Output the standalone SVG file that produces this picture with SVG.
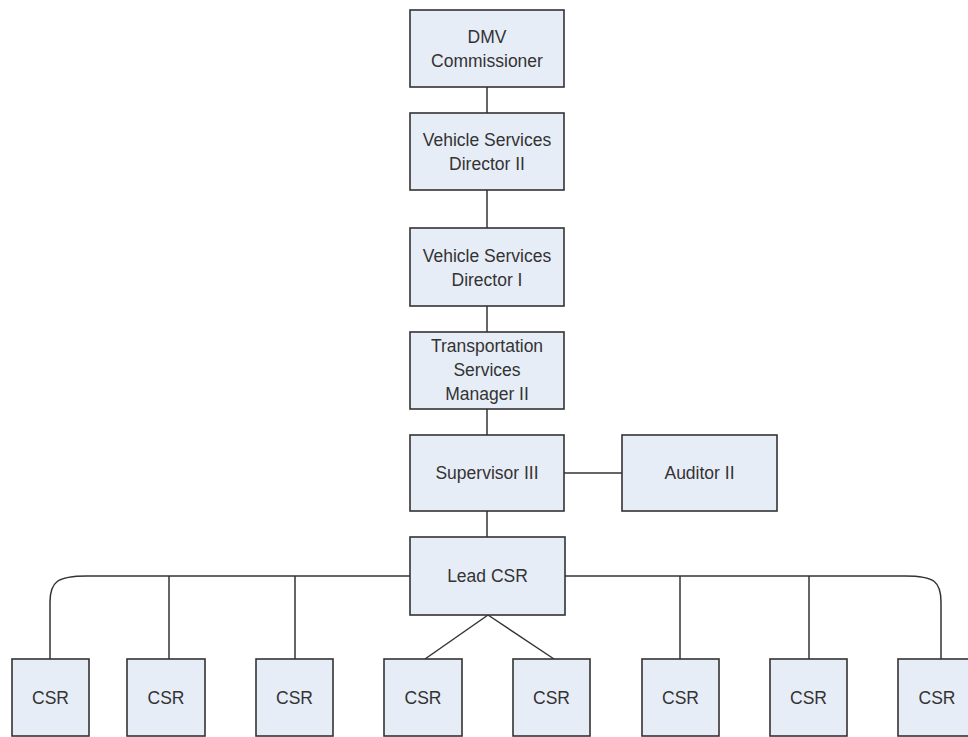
<svg xmlns="http://www.w3.org/2000/svg" width="968" height="737" viewBox="0 0 968 737">
<style>
.box{fill:#e7edf7;stroke:#333;stroke-width:1.6}
.t{font-family:"Liberation Sans",Arial,sans-serif;font-size:17.5px;fill:#333;text-anchor:middle}
.c{fill:none;stroke:#333;stroke-width:1.5}
</style>
<rect width="968" height="737" fill="#fff"/>
<g id="connectors">
<line class="c" x1="487" y1="87" x2="487" y2="113"/>
<line class="c" x1="487" y1="190" x2="487" y2="228"/>
<line class="c" x1="487" y1="306" x2="487" y2="332"/>
<line class="c" x1="487" y1="409" x2="487" y2="435"/>
<line class="c" x1="564" y1="473" x2="622" y2="473"/>
<line class="c" x1="487" y1="511" x2="487" y2="537"/>
<path class="c" d="M410 576 L87 576 C57 576 50 582 50 602 L50 659"/>
<path class="c" d="M565 576 L905 576 C935 576 941 582 941 602 L941 659"/>
<line class="c" x1="169" y1="576" x2="169" y2="659"/>
<line class="c" x1="295" y1="576" x2="295" y2="659"/>
<line class="c" x1="680" y1="576" x2="680" y2="659"/>
<line class="c" x1="809" y1="576" x2="809" y2="659"/>
<line class="c" x1="488" y1="615" x2="425" y2="659"/>
<line class="c" x1="488" y1="615" x2="554" y2="659"/>
</g>
<g id="dmv"><rect class="box" x="410" y="10" width="154" height="77"/><text class="t" x="487" y="43">DMV</text><text class="t" x="487" y="67">Commissioner</text></g>
<g id="vsd2"><rect class="box" x="410" y="113" width="154" height="77"/><text class="t" x="487" y="146">Vehicle Services</text><text class="t" x="487" y="170">Director II</text></g>
<g id="vsd1"><rect class="box" x="410" y="228" width="154" height="78"/><text class="t" x="487" y="261.5">Vehicle Services</text><text class="t" x="487" y="285.5">Director I</text></g>
<g id="tsm2"><rect class="box" x="410" y="332" width="154" height="77"/><text class="t" x="487" y="352">Transportation</text><text class="t" x="487" y="376">Services</text><text class="t" x="487" y="400">Manager II</text></g>
<g id="sup3"><rect class="box" x="410" y="435" width="154" height="76"/><text class="t" x="487" y="479">Supervisor III</text></g>
<g id="aud2"><rect class="box" x="622" y="435" width="155" height="76"/><text class="t" x="699.5" y="479">Auditor II</text></g>
<g id="lead"><rect class="box" x="410" y="537" width="155" height="78"/><text class="t" x="487.5" y="582">Lead CSR</text></g>
<g id="csr1"><rect class="box" x="12" y="659" width="77" height="77"/><text class="t" x="50.5" y="704">CSR</text></g>
<g id="csr2"><rect class="box" x="127" y="659" width="78" height="77"/><text class="t" x="166" y="704">CSR</text></g>
<g id="csr3"><rect class="box" x="256" y="659" width="77" height="77"/><text class="t" x="294.5" y="704">CSR</text></g>
<g id="csr4"><rect class="box" x="384" y="659" width="78" height="77"/><text class="t" x="423" y="704">CSR</text></g>
<g id="csr5"><rect class="box" x="513" y="659" width="77" height="77"/><text class="t" x="551.5" y="704">CSR</text></g>
<g id="csr6"><rect class="box" x="642" y="659" width="77" height="77"/><text class="t" x="680.5" y="704">CSR</text></g>
<g id="csr7"><rect class="box" x="770" y="659" width="77" height="77"/><text class="t" x="808.5" y="704">CSR</text></g>
<g id="csr8"><rect class="box" x="898" y="659" width="77" height="77"/><text class="t" x="937" y="704">CSR</text></g>
</svg>
